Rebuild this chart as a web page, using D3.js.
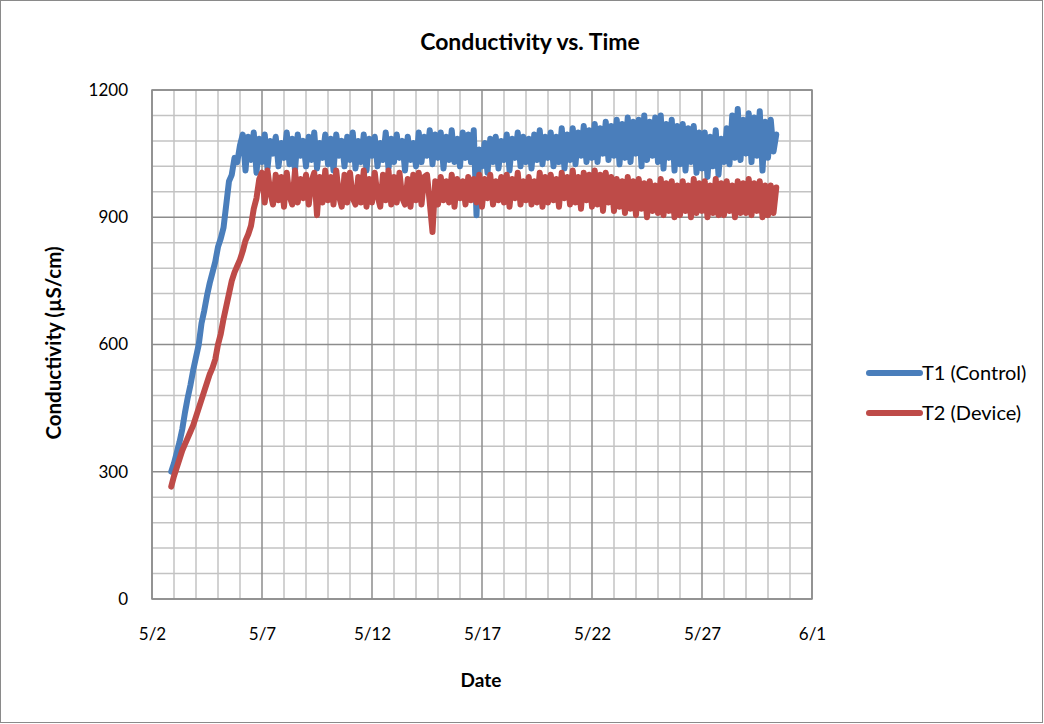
<!DOCTYPE html>
<html>
<head>
<meta charset="utf-8">
<script src="https://cdn.jsdelivr.net/npm/d3@7"></script>
<style>
  html, body { margin: 0; padding: 0; background: #fff; }
  svg { display: block; font-family: Lato, "Open Sans", sans-serif; }
</style>
</head>
<body>
<svg id="chart" width="1044" height="724"></svg>
<script>
// ---- data ----
const chartTitle = "Conductivity vs. Time";
const xTitle = "Date";
const yTitle = "Conductivity (µS/cm)";
const seriesNames = ["T1 (Control)", "T2 (Device)"];
const xTickLabels = ["5/2", "5/7", "5/12", "5/17", "5/22", "5/27", "6/1"];
const yTickValues = [0, 300, 600, 900, 1200];
// readings every 3 hours, starting 2013-05-02 21:00 (one row per day: 00,03,...,21h)
const startTime = "2013-05-02T21:00:00";
const stepHours = 3;
const t1Control = [
  300,
  320, 345, 370, 400, 440, 475, 505, 540,            // 5/3
  570, 600, 650, 680, 715, 745, 770, 795,            // 5/4
  830, 850, 875, 930, 985, 1000, 1040, 1030,         // 5/5
  1070, 1095, 1010, 1090, 1035, 1100, 1005, 1085,    // 5/6
  1030, 1095, 1015, 1080, 1050, 1090, 1020, 1075,    // 5/7
  1040, 1100, 1025, 1085, 1010, 1095, 1045, 1080,    // 5/8
  1020, 1090, 1035, 1100, 1015, 1075, 1040, 1095,    // 5/9
  1025, 1085, 1010, 1095, 1045, 1080, 1020, 1090,    // 5/10
  1035, 1100, 1015, 1080, 1030, 1095, 1010, 1085,    // 5/11
  1045, 1090, 1020, 1075, 1035, 1100, 1015, 1085,    // 5/12
  1030, 1095, 1040, 1080, 1010, 1090, 1035, 1075,    // 5/13
  1020, 1100, 1030, 1090, 1045, 1105, 1025, 1095,    // 5/14
  1040, 1100, 1015, 1090, 1035, 1105, 1030, 1085,    // 5/15
  1020, 1100, 1040, 1095, 1030, 1105, 905, 1060,     // 5/16
  1020, 1075, 1005, 1085, 1030, 1090, 1015, 1080,    // 5/17
  1035, 1095, 1010, 1085, 1040, 1100, 1020, 1090,    // 5/18
  1030, 1085, 1015, 1095, 1035, 1105, 1025, 1090,    // 5/19
  1040, 1100, 1020, 1090, 1030, 1110, 1015, 1095,    // 5/20
  1035, 1110, 1025, 1100, 1045, 1115, 1030, 1105,    // 5/21
  1040, 1120, 1030, 1110, 1050, 1125, 1035, 1115,    // 5/22
  1045, 1130, 1025, 1120, 1040, 1135, 1030, 1125,    // 5/23
  1050, 1130, 1020, 1140, 1035, 1125, 1045, 1135,    // 5/24
  1030, 1140, 1015, 1120, 1040, 1130, 1010, 1115,    // 5/25
  1025, 1120, 1010, 1110, 1030, 1115, 1005, 1100,    // 5/26
  1015, 1100, 995, 1090, 1020, 1105, 1000, 1085,     // 5/27
  1030, 1110, 1025, 1140, 1040, 1155, 1035, 1130,    // 5/28
  1050, 1145, 1030, 1135, 1045, 1150, 1010, 1125,    // 5/29
  1040, 1130, 1055, 1095                             // 5/30
];
const t2Device = [
  265,
  290, 310, 330, 350, 365, 380, 395, 410,            // 5/3
  430, 450, 470, 490, 510, 530, 545, 565,            // 5/4
  600, 625, 660, 690, 720, 750, 770, 785,            // 5/5
  800, 820, 845, 860, 880, 920, 945, 990,            // 5/6
  1005, 935, 1010, 960, 930, 1000, 940, 995,         // 5/7
  925, 1005, 950, 930, 1010, 935, 990, 945,          // 5/8
  1000, 930, 985, 1005, 905, 995, 935, 1010,         // 5/9
  940, 995, 930, 1010, 950, 925, 1000, 935,          // 5/10
  1005, 945, 930, 995, 935, 1010, 925, 990,          // 5/11
  935, 1005, 950, 925, 1000, 940, 1010, 930,         // 5/12
  995, 935, 1005, 945, 930, 990, 925, 1000,          // 5/13
  940, 1005, 930, 995, 1000, 935, 865, 985,          // 5/14
  930, 995, 940, 985, 935, 1000, 925, 990,           // 5/15
  945, 985, 930, 995, 940, 990, 935, 1000,           // 5/16
  925, 990, 945, 1000, 930, 985, 940, 995,           // 5/17
  935, 1000, 925, 990, 945, 1005, 930, 985,          // 5/18
  940, 995, 930, 985, 935, 1005, 925, 995,           // 5/19
  935, 1000, 940, 990, 925, 1005, 945, 995,          // 5/20
  930, 1010, 935, 995, 920, 1005, 940, 1000,         // 5/21
  925, 1010, 930, 1000, 915, 1005, 935, 995,         // 5/22
  915, 990, 925, 985, 910, 995, 920, 985,            // 5/23
  905, 990, 920, 980, 900, 985, 915, 975,            // 5/24
  910, 990, 905, 980, 915, 985, 900, 975,            // 5/25
  905, 985, 915, 975, 900, 990, 910, 980,            // 5/26
  915, 985, 900, 975, 910, 990, 905, 980,            // 5/27
  905, 985, 915, 975, 900, 985, 910, 980,            // 5/28
  910, 990, 905, 980, 915, 985, 900, 975,            // 5/29
  905, 975, 910, 970                                 // 5/30
];
const seriesColors = ["#4a7ebb", "#be4b48"];

// ---- layout ----
const svg = d3.select("#chart");
const W = 1044, H = 724;
const plot = { left: 152, top: 90, right: 812, bottom: 599 };

svg.append("rect").attr("x", 0.5).attr("y", 0.5).attr("width", W - 2).attr("height", H - 2)
  .attr("fill", "#fff").attr("stroke", "#8a8a8a").attr("stroke-width", 1);

const xStart = new Date(2013, 4, 2);
const xEnd = new Date(2013, 5, 1);
const x = d3.scaleTime().domain([xStart, xEnd]).range([plot.left, plot.right]);
const y = d3.scaleLinear().domain([0, 1200]).range([plot.bottom, plot.top]);

const t0 = new Date(startTime);
const toPoints = vals => vals.map((v, i) => ({ t: new Date(t0.getTime() + i * stepHours * 3600e3), v }));

// grid
const g = svg.append("g");
const dayTicks = d3.timeDay.range(xStart, d3.timeDay.offset(xEnd, 1));
const minorY = d3.range(0, 1201, 60);
g.selectAll(".hminor").data(minorY.filter(v => v % 300 !== 0)).join("line")
  .attr("x1", plot.left).attr("x2", plot.right)
  .attr("y1", d => y(d)).attr("y2", d => y(d))
  .attr("stroke", "#c3c3c3").attr("stroke-width", 1.5);
g.selectAll(".vminor").data(dayTicks.filter((d, i) => i % 5 !== 0)).join("line")
  .attr("x1", d => x(d)).attr("x2", d => x(d))
  .attr("y1", plot.top).attr("y2", plot.bottom)
  .attr("stroke", "#c3c3c3").attr("stroke-width", 1.5);
g.selectAll(".hmajor").data(yTickValues).join("line")
  .attr("x1", plot.left).attr("x2", plot.right)
  .attr("y1", d => y(d)).attr("y2", d => y(d))
  .attr("stroke", "#8c8c8c").attr("stroke-width", 1.5);
g.selectAll(".vmajor").data(dayTicks.filter((d, i) => i % 5 === 0)).join("line")
  .attr("x1", d => x(d)).attr("x2", d => x(d))
  .attr("y1", plot.top).attr("y2", plot.bottom)
  .attr("stroke", "#8c8c8c").attr("stroke-width", 1.5);
g.append("rect").attr("x", plot.left).attr("y", plot.top)
  .attr("width", plot.right - plot.left).attr("height", plot.bottom - plot.top)
  .attr("fill", "none").attr("stroke", "#8c8c8c").attr("stroke-width", 1.5);

// axes
const xTickDates = dayTicks.filter((d, i) => i % 5 === 0);
const xAxis = d3.axisBottom(x).tickValues(xTickDates)
  .tickFormat((d, i) => xTickLabels[i]).tickSize(0).tickPadding(29);
const xg = svg.append("g").attr("transform", `translate(0,${plot.bottom})`).call(xAxis);
xg.select(".domain").remove();
xg.selectAll("text").attr("font-size", 17).attr("fill", "#000").attr("font-family", "Lato, sans-serif");

const yAxis = d3.axisLeft(y).tickValues(yTickValues).tickFormat(d3.format("d")).tickSize(0).tickPadding(24);
const yg = svg.append("g").attr("transform", `translate(${plot.left},0)`).call(yAxis);
yg.select(".domain").remove();
yg.selectAll("text").attr("font-size", 17).attr("fill", "#000").attr("font-family", "Lato, sans-serif");

// series
const line = d3.line().x(d => x(d.t)).y(d => y(d.v));
[t1Control, t2Device].forEach((vals, k) => {
  svg.append("path").datum(toPoints(vals))
    .attr("d", line).attr("fill", "none")
    .attr("stroke", seriesColors[k]).attr("stroke-width", 6)
    .attr("stroke-linejoin", "round").attr("stroke-linecap", "round");
});

// titles
svg.append("text").attr("x", 530).attr("y", 50).attr("text-anchor", "middle")
  .attr("font-size", 23).attr("font-weight", "bold").text(chartTitle);
svg.append("text").attr("x", 481).attr("y", 687).attr("text-anchor", "middle")
  .attr("font-size", 19).attr("font-weight", "bold").text(xTitle);
svg.append("text").attr("transform", `translate(61,343) rotate(-90)`).attr("text-anchor", "middle")
  .attr("font-size", 20.5).attr("font-weight", "bold").text(yTitle);

// legend
const legend = svg.append("g");
seriesNames.forEach((name, k) => {
  const ly = 373 + k * 40;
  legend.append("line").attr("x1", 869).attr("x2", 920).attr("y1", ly).attr("y2", ly)
    .attr("stroke", seriesColors[k]).attr("stroke-width", 6).attr("stroke-linecap", "round");
  legend.append("text").attr("x", 922).attr("y", ly + 7).attr("font-size", 20).text(name);
});
</script>
</body>
</html>
